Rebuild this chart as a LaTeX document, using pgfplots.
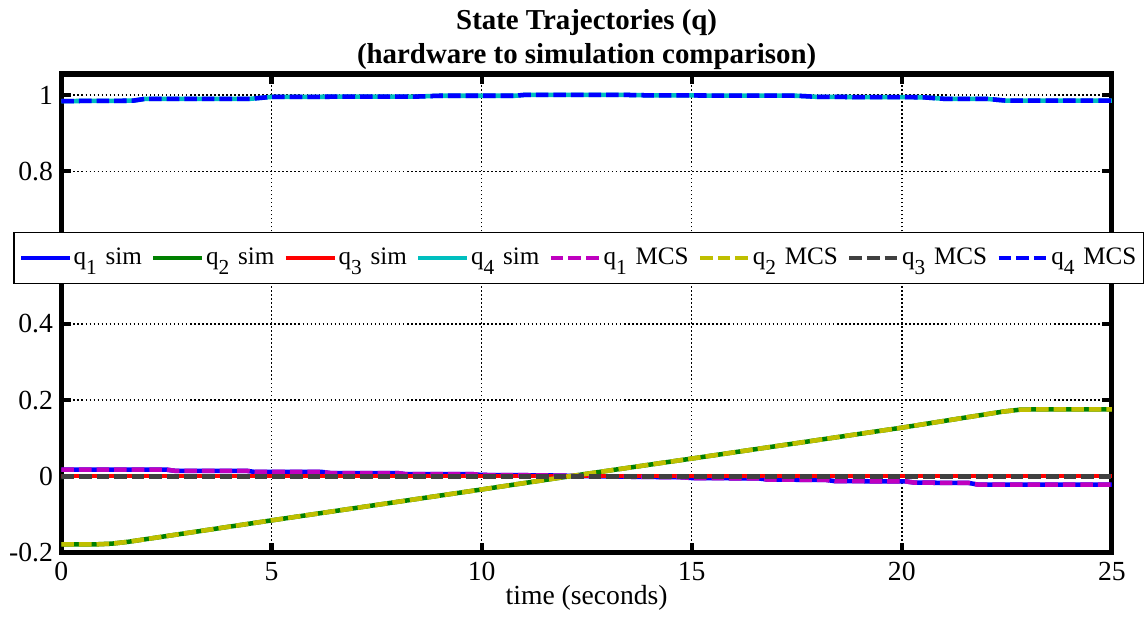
\documentclass[border=0pt]{standalone}
\usepackage{fontspec}
\setmainfont{Liberation Serif}
\usepackage{pgfplots}
\usepackage{pgfplotstable}
\pgfplotsset{compat=1.18}

\definecolor{mblue}{rgb}{0,0,1}
\definecolor{mgreen}{rgb}{0,0.5,0}
\definecolor{mred}{rgb}{1,0,0}
\definecolor{mcyan}{rgb}{0,0.75,0.75}
\definecolor{mmagenta}{rgb}{0.75,0,0.75}
\definecolor{myellow}{rgb}{0.75,0.75,0}
\definecolor{mgray}{rgb}{0.25,0.25,0.25}

% MATLAB-like lowered subscript
\newcommand{\qs}[1]{q\raisebox{-0.42em}{\fontsize{8.5}{8.5}\selectfont #1}\hspace{0.1em}}

% q1 (stepwise drift)
\pgfplotstableread{
t v
0 0.018
2.5 0.018
2.7 0.015
4.4 0.015
4.6 0.012
6.2 0.012
6.4 0.009
8.0 0.009
8.2 0.006
9.8 0.006
10.0 0.004
11.5 0.003
13.0 0.000
14.8 -0.002
15.0 -0.004
16.6 -0.005
16.8 -0.008
18.2 -0.009
18.4 -0.012
20.1 -0.013
20.3 -0.016
21.6 -0.017
21.8 -0.021
25 -0.021
}\qone

% q2 (ramp)
\pgfplotstableread{
t v
0 -0.178
0.8 -0.178
1.2 -0.176
1.6 -0.171
5 -0.115
10 -0.034
12.06 0.0
15 0.047
20 0.128
22.4 0.170
22.8 0.175
23.2 0.176
25 0.176
}\qtwo

% q3 sim and MCS (about zero)
\pgfplotstableread{
t v
0 0.001
25 0.001
}\qthreesim
\pgfplotstableread{
t v
0 0.0
25 0.0
}\qthree

% q4 (near one)
\pgfplotstableread{
t v
0 0.984
1.7 0.985
2.0 0.990
4.5 0.990
5.0 0.995
8.5 0.996
9.0 0.998
10.8 0.998
11.0 1.000
13.5 1.000
14.0 0.999
17.5 0.998
18.0 0.995
20.5 0.994
21.0 0.990
22.0 0.990
22.5 0.985
25 0.985
}\qfour

\begin{document}
\fontsize{11}{13}\selectfont
\begin{tikzpicture}
\begin{axis}[
    scale only axis,
    width=14.7cm,
    height=6.7cm,
    xmin=0, xmax=25,
    ymin=-0.2, ymax=1.055,
    xtick={0,5,10,15,20,25},
    xticklabels={0,5,10,15,20,25},
    ytick={-0.2,0,0.2,0.4,0.6,0.8,1},
    yticklabels={-0.2,0,0.2,0.4,,0.8,1},
    tick align=inside,
    major tick length=4pt,
    every tick/.style={black, line width=1.6pt},
    axis line style={line width=2pt},
    grid=major,
    grid style={black, line width=0.6pt, dash pattern=on 0.6pt off 1pt},
    yticklabel style={xshift=0.5pt},
    title={State Trajectories (q)\\(hardware to simulation comparison)},
    title style={font=\fontsize{11.5}{13.5}\selectfont\bfseries, align=center, yshift=-8pt},
    xlabel={time (seconds)},
    xlabel style={yshift=6pt},
    legend columns=8,
    legend cell align=left,
    legend style={at={(0.4924,0.616)}, anchor=center, draw=black, line width=0.5pt,
      font=\fontsize{10}{12}\selectfont, inner xsep=2pt, inner ysep=4.5pt,
      nodes={inner xsep=0.8pt, inner ysep=1.5pt},
      /tikz/every even column/.append style={column sep=3pt}},
    legend image code/.code={\draw[#1, line width=1.6pt] (0cm,0cm) -- (0.68cm,0cm);},
]
\addplot[mblue, line width=1.8pt] table[x=t,y=v] {\qone};
\addplot[mgreen, line width=1.8pt] table[x=t,y=v] {\qtwo};
\addplot[mred, line width=1.8pt] table[x=t,y=v] {\qthreesim};
\addplot[mcyan, line width=1.8pt] table[x=t,y=v] {\qfour};
\addplot[mmagenta, line width=1.8pt, dash pattern=on 5pt off 2pt] table[x=t,y=v] {\qone};
\addplot[myellow, line width=1.8pt, dash pattern=on 5pt off 2pt] table[x=t,y=v] {\qtwo};
\addplot[mgray, line width=1.8pt, dash pattern=on 5pt off 2pt] table[x=t,y=v] {\qthree};
\addplot[mblue, line width=1.8pt, dash pattern=on 5pt off 2pt] table[x=t,y=v] {\qfour};
\legend{\qs{1} sim, \qs{2} sim, \qs{3} sim, \qs{4} sim,
  \qs{1} MCS, \qs{2} MCS, \qs{3} MCS, \qs{4} MCS}
\end{axis}
\end{tikzpicture}
\end{document}
